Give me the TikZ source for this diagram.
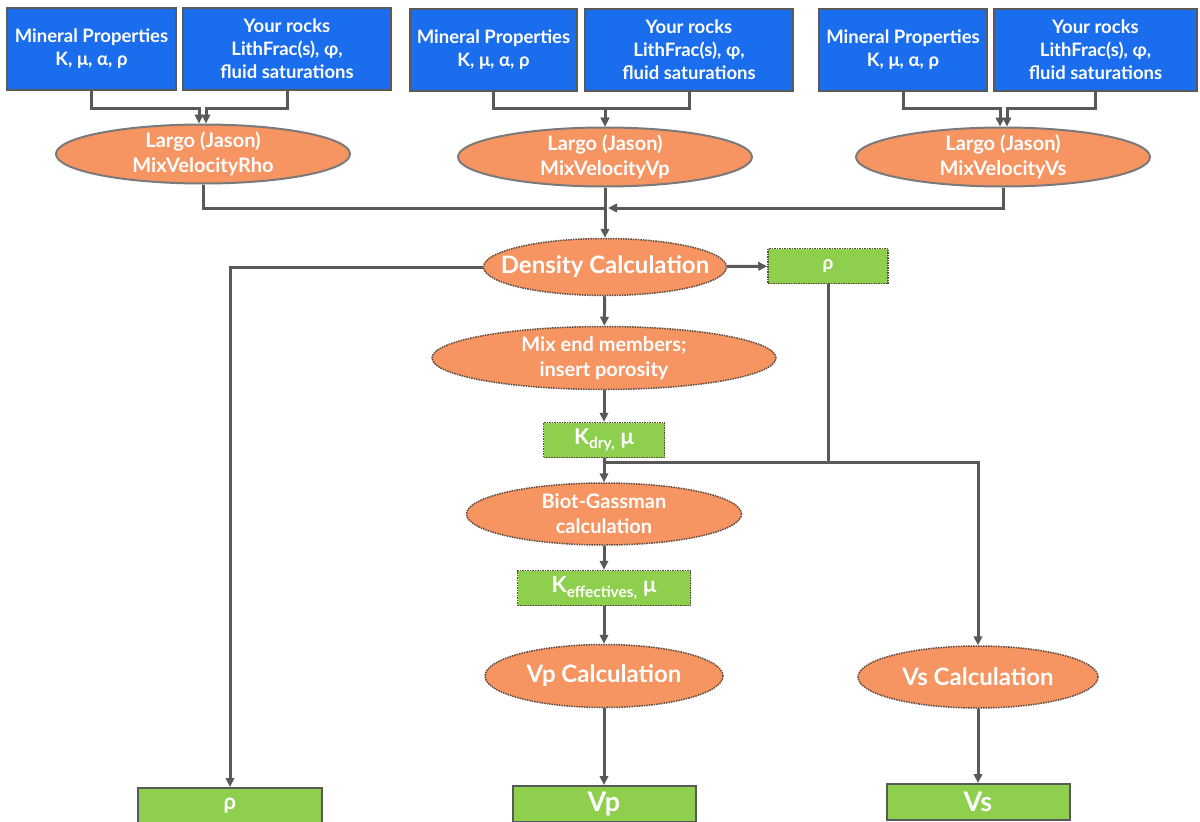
\documentclass[tikz,border=0pt]{standalone}
\usepackage{fontspec}
\setmainfont{Lato}
\usepackage{xcolor}
\definecolor{FlowBlue}{HTML}{1A6EEE}
\definecolor{FlowOrange}{HTML}{F69462}
\definecolor{FlowGreen}{HTML}{8FCF4E}
\definecolor{FlowLine}{HTML}{595959}
\definecolor{FlowDots}{HTML}{5A4A3F}
\usetikzlibrary{arrows.meta, calc, positioning, shapes.geometric}

\begin{document}
\begin{tikzpicture}[x=1pt, y=-1pt]
  \tikzset{
    inbox/.style={rectangle, fill=FlowBlue, draw=FlowLine, line width=2.5pt, text=white, align=center,
      minimum height=82pt, inner sep=0pt, font=\fontsize{18.5}{23}\selectfont\bfseries},
    largo/.style={ellipse, fill=FlowOrange, draw=FlowLine!80, line width=2pt, inner sep=0pt,
      minimum width=294pt, minimum height=59pt},
    calc/.style={ellipse, fill=FlowOrange, draw=FlowDots, densely dotted, line width=1.5pt, inner sep=0pt},
    midbox/.style={rectangle, fill=FlowGreen, draw=FlowDots, densely dotted, line width=1.5pt,
      minimum height=35pt, inner sep=0pt, text=white, font=\fontsize{22}{24}\selectfont\bfseries},
    outbox/.style={rectangle, fill=FlowGreen, draw=FlowLine, line width=2pt, minimum width=183pt,
      minimum height=36pt, inner sep=0pt, text=white, font=\fontsize{27}{30}\selectfont\bfseries},
    inside/.style={text=white, align=center, font=\fontsize{20}{25}\selectfont\bfseries},
    bigin/.style={text=white, align=center, font=\fontsize{24}{28}\selectfont\bfseries},
    conn/.style={draw=FlowLine, line width=3pt, -{Triangle[length=9pt, width=8.5pt]}},
    wire/.style={draw=FlowLine, line width=3pt},
  }
  \useasboundingbox (0,0) rectangle (1200,822);

  % input boxes
  \node[inbox, minimum width=169pt] (in1) at (91.5,49) {Mineral Properties\\K, μ, α, ρ};
  \node[inbox, minimum width=208pt] (in2) at (287,49) {Your rocks\\LithFrac(s), φ,\\fluid saturations};
  \node[inbox, minimum width=167pt] (in3) at (493.5,50) {Mineral Properties\\K, μ, α, ρ};
  \node[inbox, minimum width=208pt] (in4) at (689,50) {Your rocks\\LithFrac(s), φ,\\fluid saturations};
  \node[inbox, minimum width=168pt] (in5) at (903,50) {Mineral Properties\\K, μ, α, ρ};
  \node[inbox, minimum width=203pt] (in6) at (1095.5,50) {Your rocks\\LithFrac(s), φ,\\fluid saturations};

  % Largo runs
  \node[largo, label={[inside]center:Largo (Jason)\\MixVelocityRho}] (rho) at (203,154) {};
  \node[largo, label={[inside]center:Largo (Jason)\\MixVelocityVp}] (mvp) at (605,157) {};
  \node[largo, label={[inside]center:Largo (Jason)\\MixVelocityVs}] (mvs) at (1003,157) {};

  % calculation chain
  \node[calc, minimum width=243pt, minimum height=57pt, label={[bigin]center:Density Calculation}] (dens) at (605,267) {};
  \node[midbox, minimum width=120pt, font=\fontsize{19}{22}\selectfont\bfseries] (rhomid) at (828,266) {ρ};
  \node[calc, minimum width=344pt, minimum height=63pt, label={[inside]center:Mix end members;\\insert porosity}] (mix) at (604,358) {};
  \node[midbox, minimum width=121pt] (kdry) at (604,440) {K\textsubscript{dry,} μ};
  \node[calc, minimum width=275pt, minimum height=62pt, label={[inside]center:Biot-Gassman\\calculation}] (biot) at (604,514) {};
  \node[midbox, minimum width=173pt] (keff) at (604,588) {K\textsubscript{effectives,} μ};
  \node[calc, minimum width=238pt, minimum height=63pt, label={[bigin]center:Vp Calculation}] (vpcalc) at (604,676) {};
  \node[calc, minimum width=240pt, minimum height=62pt, label={[bigin]center:Vs Calculation}] (vscalc) at (978,677) {};

  % outputs
  \node[outbox, minimum width=184pt, font=\fontsize{22}{26}\selectfont\bfseries] (rhoout) at (230,806) {ρ};
  \node[outbox] (vpout) at (604,804) {Vp};
  \node[outbox] (vsout) at (978,802) {Vs};

  % joints
  \coordinate (ja) at (199,108);
  \coordinate (jb) at (206,108);
  \coordinate (jc) at (605,108);
  \coordinate (jd) at (1000,108);
  \coordinate (je) at (1007,108);
  \coordinate (jf) at (605,208);
  \coordinate (jg) at (608,208);
  \coordinate (jh) at (605,462);

  % inputs into Largo
  \draw[conn] (in1.south) |- (ja) -- (ja |- rho.north);
  \draw[conn] (in2.south) |- (jb) -- (jb |- rho.north);
  \draw[conn] (in3.south) |- (jc) -- (mvp);
  \draw[conn] (in4.south) |- (jc) -- (mvp);
  \draw[conn] (in5.south) |- (jd) -- (jd |- mvs.north);
  \draw[conn] (in6.south) |- (je) -- (je |- mvs.north);

  % Largo into density
  \draw[wire] (rho.south) |- (jf);
  \draw[conn] (mvs.south) |- (jg);
  \draw[conn] (mvp) -- (dens);

  % chain
  \draw[conn] (dens) -- (rhomid);
  \draw[conn] (dens.west) -| (rhoout.north);
  \draw[conn] (dens) -- (mix);
  \draw[conn] (mix) -- (kdry);
  \draw[wire] (rhomid.south) |- (jh);
  \draw[conn] (rhomid.south) |- (vscalc.north |- jh) -- (vscalc.north);
  \draw[conn] (kdry) -- (biot);
  \draw[conn] (biot) -- (keff);
  \draw[conn] (keff) -- (vpcalc);
  \draw[conn] (vpcalc) -- (vpout);
  \draw[conn] (vscalc) -- (vsout);

\end{tikzpicture}
\end{document}
